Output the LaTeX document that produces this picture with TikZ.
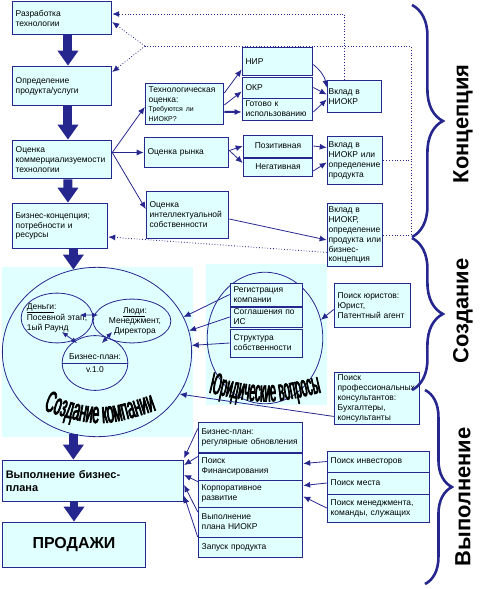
\documentclass[tikz,border=0pt]{standalone}
\usepackage{fontspec}
\setmainfont{Liberation Sans}
\newfontfamily\archfont[FakeStretch=0.42,FakeBold=2.5]{Liberation Sans}
\newfontfamily\archfontb[FakeStretch=0.36,FakeBold=2.5]{Liberation Sans}
\usepackage{tikz}
\usetikzlibrary{arrows.meta,positioning,shapes.geometric,calc,decorations.pathreplacing,decorations.text}
\definecolor{skblue}{HTML}{26268F}
\definecolor{skcyan}{HTML}{E0FFFF}

\begin{document}
\begin{tikzpicture}[x=1bp, y=-1bp,
  box/.style={draw=skblue, line width=0.9pt, fill=skcyan, align=left,
    inner xsep=3.5pt, inner ysep=0.5pt, font=\fontsize{8.5}{10}\selectfont},
  ell/.style={draw=skblue, line width=0.8pt, ellipse, inner sep=0pt},
  etxt/.style={align=left, inner sep=0pt, font=\fontsize{8.5}{10}\selectfont},
  area/.style={fill=skcyan, draw=none},
  arr/.style={draw=skblue, line width=0.8pt, -{Latex[length=7pt,width=6pt]}},
  dbl/.style={draw=skblue, line width=0.8pt, {Latex[length=6pt,width=5pt]}-{Latex[length=6pt,width=5pt]}},
  big/.style={draw=skblue, line width=9pt, -{Triangle[width=20pt,length=15pt]}},
  dots/.style={draw=skblue, line width=0.8pt, dotted},
  brc/.style={draw=skblue, line width=2.6pt, decorate, decoration={brace, amplitude=#1}},
  phase/.style={rotate=90, font=\bfseries\fontsize{22}{22}\selectfont}]
  \useasboundingbox (0,0) rectangle (486,589);

  % shaded areas
  \fill[area] (2,267) rectangle (193,437);
  \fill[area] (206,264) rectangle (327,405);

  % concept
  \node[box, text width=93pt, minimum height=34pt] (DEV) at (62,18) {Разработка\\технологии};
  \node[box, text width=93pt, minimum height=40pt] (DEF) at (62,86) {Определение\\продукта/услуги};
  \node[box, text width=93pt, minimum height=39pt] (COM) at (62,159.5) {Оценка\\коммерциализуемости\\технологии};
  \node[box, text width=89pt, minimum height=46pt] (BIZ) at (60,226) {Бизнес-концепция;\\потребности и\\ресурсы};
  \node[box, text width=72pt, minimum height=42pt] (TEC) at (184.5,104) {Технологическая\\оценка:\\[1pt]{\fontsize{7}{8}\selectfont Требуются ли\\НИОКР?}};
  \node[box, text width=78pt, minimum height=31pt] (MKT) at (186.5,152.5) {Оценка рынка};
  \node[box, text width=76pt, minimum height=48pt] (IPR) at (187.5,215) {Оценка\\интеллектуальной\\собственности};
  \node[box, text width=64pt, minimum height=29pt] (NIR) at (277.5,61.5) {НИР};
  \node[box, text width=64pt, minimum height=21pt] (OKR) at (277.5,87.5) {ОКР};
  \node[box, text width=64pt, minimum height=22pt] (RDY) at (277.5,109) {Готово к\\использованию};
  \node[box, text width=63pt, minimum height=22pt, align=center] (POS) at (278,146) {Позитивная};
  \node[box, text width=63pt, minimum height=18pt, align=center] (NEG) at (278,167) {Негативная};
  \node[box, text width=52pt, minimum height=33pt, inner xsep=1.5pt] (V1) at (354.5,96.5) {Вклад в\\НИОКР};
  \node[box, text width=53pt, minimum height=49pt, inner xsep=1.5pt] (V2) at (355,160.5) {Вклад в\\НИОКР или\\определение\\продукта};
  \node[box, text width=53pt, minimum height=64pt, inner xsep=1.5pt] (V3) at (355,235) {Вклад в\\НИОКР,\\определение\\продукта или\\бизнес-\\концепция};

  % creation
  \node[ell, minimum width=190pt, minimum height=170pt] (CO) at (97,352) {};
  \node[ell, minimum width=72pt, minimum height=50pt,
    label={[etxt]center:{\underline{Деньги}:\\Посевной этап,\\1ый Раунд}}] (MON) at (57,318) {};
  \node[ell, minimum width=78pt, minimum height=44pt,
    label={[etxt, align=center, xshift=3pt]center:{\underline{Люди}:\\Менеджмент,\\Директора}}] (PPL) at (132,321) {};
  \node[ell, minimum width=66pt, minimum height=55pt,
    label={[etxt, yshift=6pt]center:Бизнес-план:},
    label={[etxt, yshift=-7pt]center:v.1.0}] (BPL) at (95,363) {};
  \draw[skblue, line width=0.8pt] (BPL.west) -- (BPL.east);
  \path[decorate, decoration={text along path, text align=center,
    text={|\archfont\fontsize{30}{30}\selectfont|Создание компании}}]
    (20,402) .. controls (100,430) .. (180,402);

  \node[ell, minimum width=116pt, minimum height=132pt] (LEG) at (265,338) {};
  \node[box, text width=66pt, minimum height=23pt] (REG) at (266.5,294.5) {Регистрация\\компании};
  \node[box, text width=66pt, minimum height=20pt] (AGR) at (266.5,317) {Соглашения по\\ИС};
  \node[box, text width=66pt, minimum height=28pt] (OWN) at (266.5,343) {Структура\\собственности};
  \path[decorate, decoration={text along path, text align=center,
    text={|\archfontb\fontsize{30}{30}\selectfont|Юридические вопросы}}]
    (190,388) .. controls (265,406) .. (340,388);
  \node[box, text width=70pt, minimum height=45pt] (LAW) at (372.5,305.5) {Поиск юристов:\\Юрист,\\Патентный агент};
  \node[box, text width=79pt, minimum height=53pt] (CON) at (377,398.5) {Поиск\\профессиональных\\консультантов:\\Бухгалтеры,\\консультанты};

  % execution
  \node[box, text width=175pt, minimum height=42pt, font=\bfseries\fontsize{11}{13}\selectfont] (EXE) at (93,481) {Выполнение бизнес-\\плана};
  \node[box, text width=137pt, minimum height=46pt, align=center, font=\bfseries\fontsize{16}{18}\selectfont] (SAL) at (74,545) {ПРОДАЖИ};
  \node[box, text width=98pt, minimum height=31pt] (BPU) at (250.5,437.5) {Бизнес-план:\\регулярные обновления};
  \node[box, text width=98pt, minimum height=27pt] (FIN) at (250.5,466.5) {Поиск\\Финансирования};
  \node[box, text width=98pt, minimum height=27pt] (CRP) at (250.5,493.5) {Корпоративное\\развитие};
  \node[box, text width=98pt, minimum height=30pt] (RND) at (250.5,522) {Выполнение\\плана НИОКР};
  \node[box, text width=98pt, minimum height=20pt] (LCH) at (250.5,547) {Запуск продукта};
  \node[box, text width=96pt, minimum height=21pt] (INV) at (378.5,461.5) {Поиск инвесторов};
  \node[box, text width=96pt, minimum height=22pt] (LOC) at (378.5,483) {Поиск места};
  \node[box, text width=96pt, minimum height=28pt] (MGT) at (378.5,508) {Поиск менеджмента,\\команды, служащих};

  % main flow
  \draw[big] ([xshift=6pt]DEV.south) -- ([xshift=6pt]DEF.north);
  \draw[big] ([xshift=6pt]DEF.south) -- ([xshift=6pt]COM.north);
  \draw[big] ([xshift=6pt]COM.south) -- ([xshift=8pt]BIZ.north);
  \draw[big] (BIZ.south -| CO.106) -- (CO.106);
  \draw[big] (CO.254) -- (CO.254 |- EXE.north);
  \draw[big] (EXE.south -| SAL.north) -- (SAL.north);

  % assessment links
  \draw[arr] ([yshift=7pt]COM.east) -- ([yshift=-3pt]TEC.west);
  \draw[arr] ([yshift=7pt]COM.east) -- (MKT.west);
  \draw[arr] ([yshift=7pt]COM.east) -- ([yshift=6pt]IPR.west);
  \draw[arr] ([yshift=11pt]TEC.east) -- ([yshift=-8pt]NIR.west);
  \draw[arr] ([yshift=-1pt]TEC.east) -- ([yshift=-4pt]OKR.west);
  \draw[arr, line width=2pt] ([yshift=-8pt]TEC.east) -- ([yshift=-3pt]RDY.west);
  \draw[arr] ([yshift=2pt]MKT.east) -- (POS.west);
  \draw[arr] ([yshift=2pt]MKT.east) -- ([yshift=4pt]NEG.west);
  \draw[arr] ([yshift=-3pt]NIR.east) to[bend left=20] ([yshift=9pt]V1.west);
  \draw[arr] (OKR.east) -- ([yshift=2pt]V1.west);
  \draw[arr] ([yshift=-3pt]RDY.east) -- ([yshift=-3pt]V1.west);
  \draw[arr] (POS.east) -- ([yshift=13pt]V2.west);
  \draw[arr] ([yshift=-4pt]NEG.east) -- ([yshift=-2pt]V2.west);
  \draw[arr] ([yshift=-4pt]IPR.east) -- ([yshift=-5pt]V3.west);

  % feedback
  \coordinate (JN) at (145,46);
  \coordinate (RC) at (411,46);
  \draw[dots, -{Latex[length=7pt,width=6pt]}] ([xshift=-10pt]V1.north) |- ([yshift=4pt]DEV.east);
  \draw[dots] (V3.east) -- (V3.east -| RC) -- (RC) -- (JN);
  \draw[dots] (V2.east) -- (V2.east -| RC);
  \draw[dots, -{Latex[length=7pt,width=6pt]}] (JN) -- ([yshift=-4pt]DEV.east);
  \draw[dots, -{Latex[length=7pt,width=6pt]}] (JN) -- ([yshift=14pt]DEF.east);
  \draw[dots, -{Latex[length=7pt,width=6pt]}] ([yshift=15pt]V3.south west) -- ([yshift=-11pt]BIZ.east);

  % creation links
  \draw[arr] (REG.west) -- (CO.22);
  \draw[arr] (AGR.west) -- (CO.13);
  \draw[arr] (OWN.west) -- (CO.4);
  \draw[arr] ([yshift=-18pt]CON.west) -- (CO.-27);
  \draw[arr] ([yshift=-4pt]LAW.west) -- (LEG.18);
  \draw[dbl] ([xshift=23pt,yshift=3pt]MON.center) -- ([xshift=-34pt,yshift=6pt]PPL.center);
  \draw[dbl] ([xshift=5pt,yshift=-14pt]MON.center) -- ([xshift=-18pt,yshift=20pt]BPL.center);
  \draw[dbl] ([xshift=7pt,yshift=20pt]BPL.center) -- ([xshift=-20pt,yshift=-11pt]PPL.center);

  % execution links
  \foreach \p/\a/\b in {BPU/9/23, FIN/10/16, CRP/12/6, RND/10/-4, LCH/10/-15}
    \draw[arr] ([yshift=\a pt]\p.west) -- ([yshift=\b pt]EXE.east);
  \draw[arr] (INV.west) -- ([yshift=3pt]FIN.east);
  \draw[arr] (LOC.west) -- ([yshift=8pt]CRP.east);
  \draw[arr] (MGT.west) -- ([yshift=-3pt]CRP.east);

  % phases
  \draw[brc=31pt] (412,5) -- (412,237);
  \draw[brc=31pt] (412,238) -- (412,390);
  \draw[brc=27pt] (425,390) -- (425,584);
  \node[phase] (CONC) at (463,124) {Концепция};
  \node[phase] (CREA) at (463,311) {Создание};
  \node[phase] (EXEC) at (463,497) {Выполнение};
\end{tikzpicture}
\end{document}
